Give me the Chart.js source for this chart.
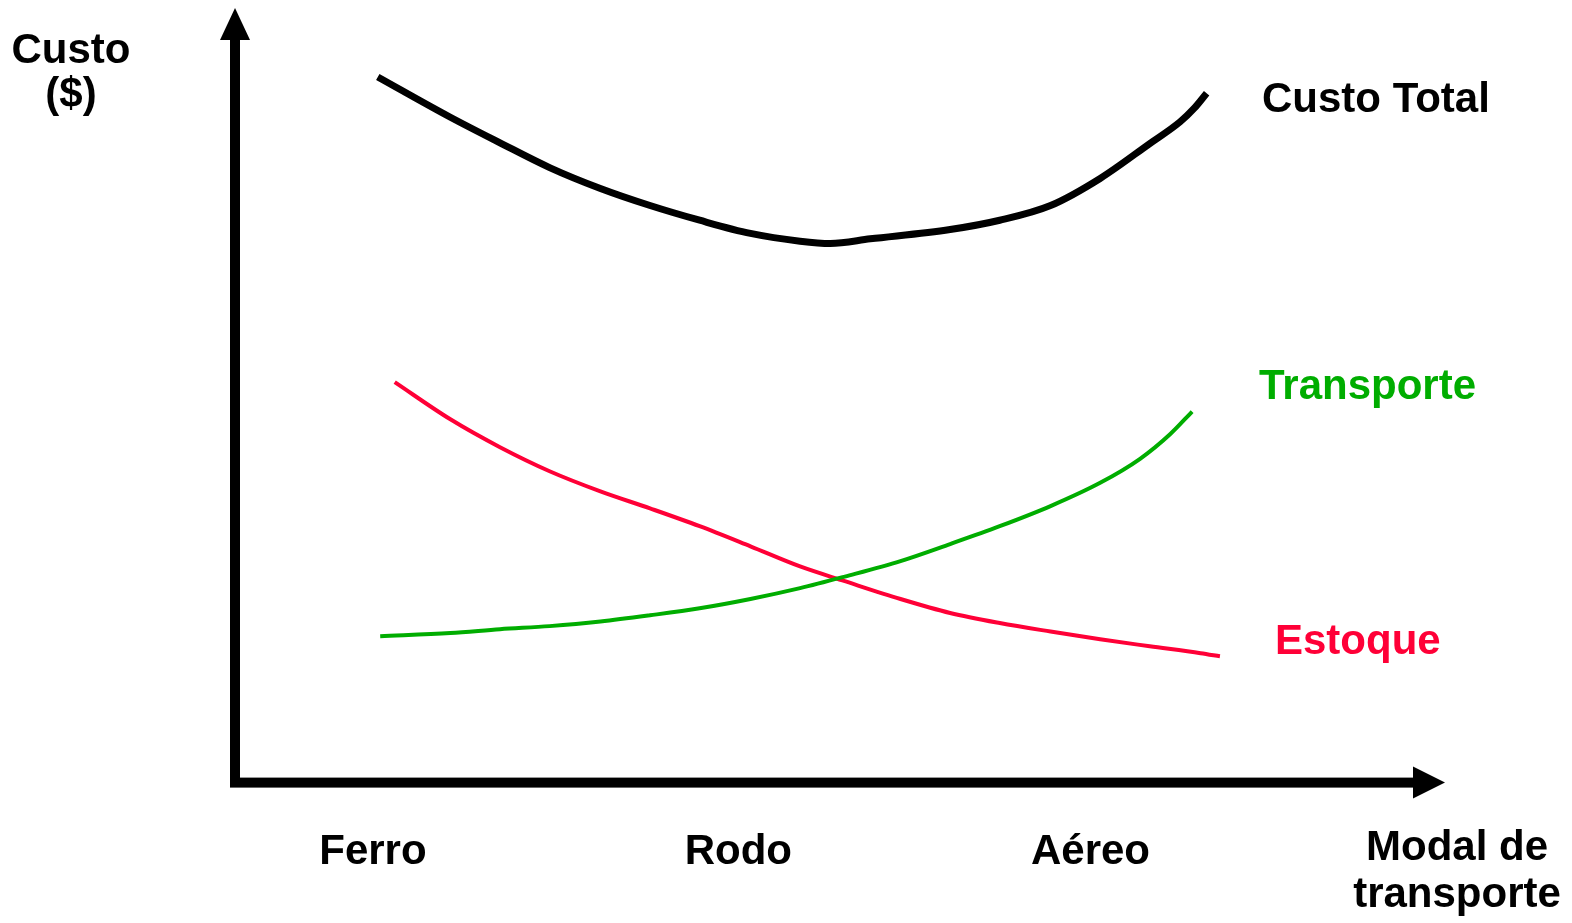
<!DOCTYPE html>
<html>
<head>
<meta charset="utf-8">
<script src="https://cdn.jsdelivr.net/npm/chart.js@4.4.1/dist/chart.umd.min.js"></script>
<style>
  html, body { margin: 0; padding: 0; background: #ffffff; }
  #wrap { width: 1572px; height: 923px; position: relative; }
</style>
</head>
<body>
<div id="wrap"><canvas id="c" width="1572" height="923"></canvas></div>
<script>
// ---- Data (arbitrary units, x: 0..100 along the modal axis, y: 0..100 cost) ----
const categories = ['Ferro', 'Rodo', 'Aéreo'];
const categoryPositions = [11.4, 41.6, 70.7];

const totalX = [11.8, 17.8, 21.9, 26.0, 30.2, 34.3, 38.4, 42.6, 46.7, 49.2, 52.5, 59.1, 63.2, 67.4, 71.5, 75.6, 78.1, 79.3, 80.3];
const totalY = [91.1, 85.9, 82.6, 79.4, 76.7, 74.5, 72.6, 70.9, 69.9, 69.6, 70.2, 71.4, 72.6, 74.5, 78.0, 82.5, 85.3, 87.1, 89.0];

const estoqueX = [13.2, 17.8, 21.9, 26.0, 30.2, 34.3, 38.4, 42.6, 46.7, 50.4, 55.0, 59.1, 63.2, 67.4, 71.5, 75.6, 79.8, 81.4];
const estoqueY = [51.7, 46.9, 43.3, 40.2, 37.6, 35.4, 33.1, 30.5, 27.9, 26.0, 23.7, 21.9, 20.6, 19.5, 18.5, 17.6, 16.7, 16.3];

const transporteX = [12.0, 17.8, 21.9, 26.0, 30.2, 34.3, 38.4, 42.6, 46.7, 50.4, 55.0, 59.1, 63.2, 67.4, 71.5, 74.8, 77.3, 79.1];
const transporteY = [18.9, 19.3, 19.8, 20.2, 20.8, 21.6, 22.5, 23.7, 25.1, 26.6, 28.6, 30.8, 33.1, 35.7, 38.7, 41.8, 45.0, 47.9];

const seriesNames = ['Custo Total', 'Transporte', 'Estoque'];
const yTitle = ['Custo', '($)'];
const xTitle = ['Modal de', 'transporte'];

const BLACK = '#000000';
const GREEN = '#00AD00';
const RED = '#FF0037';
const FONT = '"Liberation Sans", Arial, Helvetica, sans-serif';

function pts(xs, ys) { return xs.map((x, i) => ({ x: x, y: ys[i] })); }

const axesPlugin = {
  id: 'arrowAxes',
  beforeDatasetsDraw(chart) {
    const { ctx, chartArea: a } = chart;
    const x0 = a.left, y0 = a.bottom;
    ctx.save();
    ctx.fillStyle = BLACK;
    // vertical axis
    ctx.fillRect(x0 - 5, a.top + 30, 10, y0 + 5 - (a.top + 30));
    ctx.beginPath();
    ctx.moveTo(x0, a.top);
    ctx.lineTo(x0 + 15, a.top + 32);
    ctx.lineTo(x0 - 15, a.top + 32);
    ctx.closePath();
    ctx.fill();
    // horizontal axis
    ctx.fillRect(x0 + 5, y0 - 5, (a.right - 30) - (x0 + 5), 10);
    ctx.beginPath();
    ctx.moveTo(a.right, y0);
    ctx.lineTo(a.right - 32, y0 - 16);
    ctx.lineTo(a.right - 32, y0 + 16);
    ctx.closePath();
    ctx.fill();
    ctx.restore();
  },
  afterDraw(chart) {
    const { ctx } = chart;
    ctx.save();
    ctx.font = 'bold 42px ' + FONT;
    ctx.textBaseline = 'alphabetic';
    // y title
    ctx.fillStyle = BLACK;
    ctx.textAlign = 'center';
    ctx.fillText(yTitle[0], 71, 63);
    ctx.fillText(yTitle[1], 71, 107);
    // x title
    ctx.fillText(xTitle[0], 1457, 860);
    ctx.fillText(xTitle[1], 1457, 907);
    // series labels
    ctx.textAlign = 'left';
    ctx.fillStyle = BLACK;
    ctx.fillText(seriesNames[0], 1262, 112);
    ctx.fillStyle = GREEN;
    ctx.fillText(seriesNames[1], 1259, 399);
    ctx.fillStyle = RED;
    ctx.fillText(seriesNames[2], 1275, 654);
    ctx.restore();
  }
};

new Chart(document.getElementById('c'), {
  type: 'line',
  data: {
    datasets: [
      { label: seriesNames[0], data: pts(totalX, totalY), borderColor: BLACK, borderWidth: 7 },
      { label: seriesNames[1], data: pts(transporteX, transporteY), borderColor: GREEN, borderWidth: 4 },
      { label: seriesNames[2], data: pts(estoqueX, estoqueY), borderColor: RED, borderWidth: 4 }
    ]
  },
  options: {
    responsive: false,
    animation: false,
    devicePixelRatio: 1,
    elements: {
      point: { radius: 0, hoverRadius: 0 },
      line: { tension: 0.4, cubicInterpolationMode: 'monotone', fill: false, borderCapStyle: 'butt' }
    },
    layout: { padding: { left: 235, right: 127, top: 8, bottom: 8 } },
    plugins: { legend: { display: false }, tooltip: { enabled: false } },
    scales: {
      x: {
        type: 'linear', min: 0, max: 100,
        grid: { display: false },
        border: { display: false },
        afterBuildTicks(scale) { scale.ticks = categoryPositions.map(v => ({ value: v })); },
        ticks: {
          autoSkip: false, maxRotation: 0, padding: 37,
          color: BLACK,
          font: { family: FONT, size: 42, weight: 'bold' },
          callback: (v, i) => categories[i]
        }
      },
      y: { type: 'linear', min: 0, max: 100, display: false }
    }
  },
  plugins: [axesPlugin]
});
</script>
</body>
</html>
